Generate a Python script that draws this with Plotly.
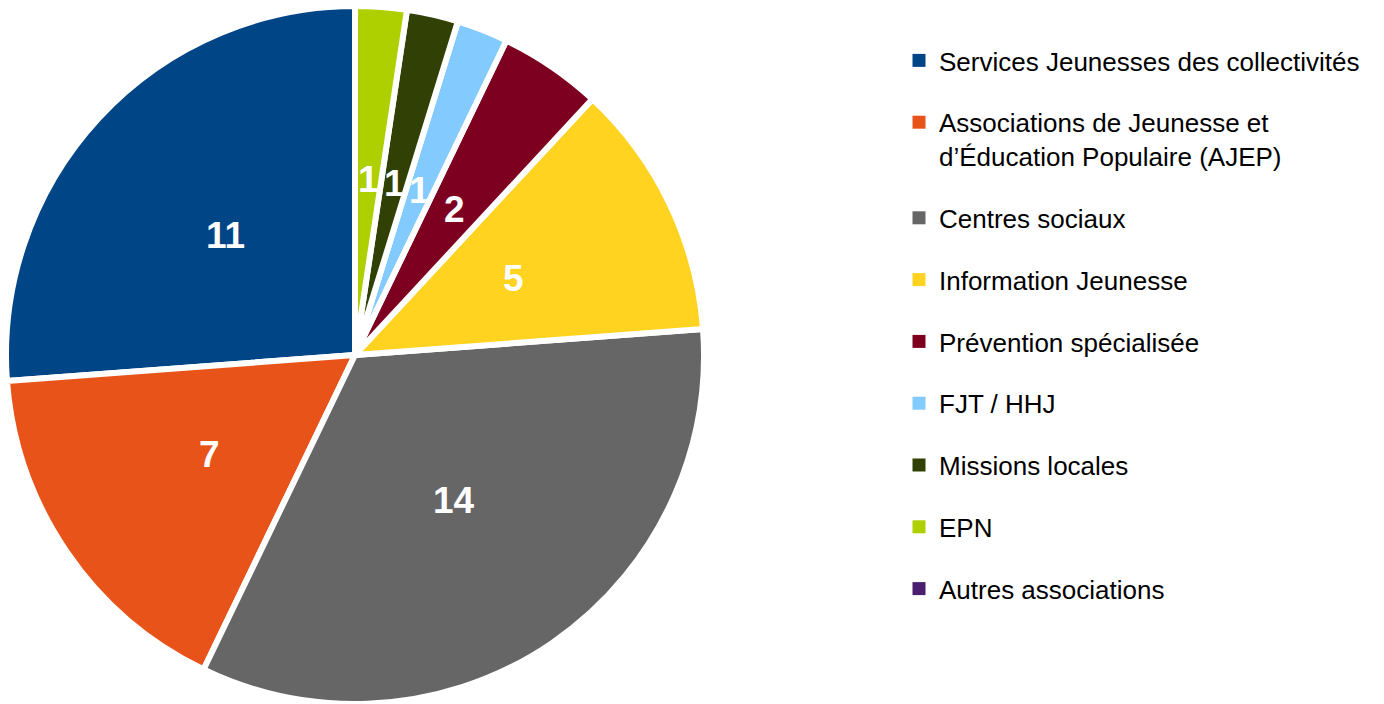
import math
import plotly.graph_objects as go

categories = [
    "Services Jeunesses des collectivités",
    "Associations de Jeunesse et<br>d’Éducation Populaire (AJEP)",
    "Centres sociaux",
    "Information Jeunesse",
    "Prévention spécialisée",
    "FJT / HHJ",
    "Missions locales",
    "EPN",
    "Autres associations",
]
values = [11, 7, 14, 5, 2, 1, 1, 1, 0]
colors = ["#004586", "#e8531a", "#666666", "#ffd320", "#7e0021",
          "#83caff", "#314004", "#aecf00", "#4b1f6f"]

W, H = 1384, 704
M_T, M_B = 6, 0
PIE_X1 = 710 / W  # pie domain right edge (paper fraction)

total = sum(values)

fig = go.Figure()

# plotly's counterclockwise mode puts the first slice's end at `rotation`;
# rotate so the first slice starts at 12 o'clock and runs counterclockwise.
fig.add_trace(go.Pie(
    labels=categories,
    values=values,
    sort=False,
    direction="counterclockwise",
    rotation=-360 * values[0] / total,
    marker=dict(colors=colors, line=dict(color="white", width=6)),
    textinfo="none",
    domain=dict(x=[0, PIE_X1], y=[0, 1]),
    hoverinfo="label+value",
    showlegend=False,
))

# legend entries (square markers) as empty scatter traces
for i, (cat, col) in enumerate(zip(categories, colors)):
    fig.add_trace(go.Scatter(
        x=[None], y=[None], mode="markers", name=cat,
        legendgroup=f"g{i}",
        marker=dict(symbol="square", size=13, color=col),
        showlegend=True,
    ))

# value labels placed at half radius along each slice bisector
plot_h = H - M_T - M_B
cx_px = PIE_X1 * W / 2
cy_px = M_T + plot_h / 2
R = min(PIE_X1 * W, plot_h) / 2
r_lab = 0.505 * R
cum = 0
for v in values:
    if v > 0:
        mid = 2 * math.pi * (cum + v / 2) / total  # counterclockwise from 12 o'clock
        px = cx_px - r_lab * math.sin(mid)
        py = cy_px - r_lab * math.cos(mid)
        fig.add_annotation(
            x=px / W, y=(H - M_B - py) / plot_h, xref="paper", yref="paper",
            text=f"<b>{v}</b>", showarrow=False,
            xanchor="center", yanchor="middle",
            font=dict(family="Liberation Sans", size=37, color="white"),
        )
    cum += v

fig.update_xaxes(visible=False)
fig.update_yaxes(visible=False)

legend_top_px = 37
fig.update_layout(
    width=W, height=H,
    margin=dict(l=0, r=0, t=M_T, b=M_B),
    paper_bgcolor="white",
    plot_bgcolor="white",
    showlegend=True,
    legend=dict(
        x=899 / W, y=(H - M_B - legend_top_px) / plot_h,
        xanchor="left", yanchor="top",
        font=dict(family="Liberation Sans", size=26, color="black"),
        valign="top",
        itemwidth=30,
        traceorder="grouped",
        tracegroupgap=25,
        bgcolor="rgba(0,0,0,0)",
    ),
)

fig.write_html("out.html")
